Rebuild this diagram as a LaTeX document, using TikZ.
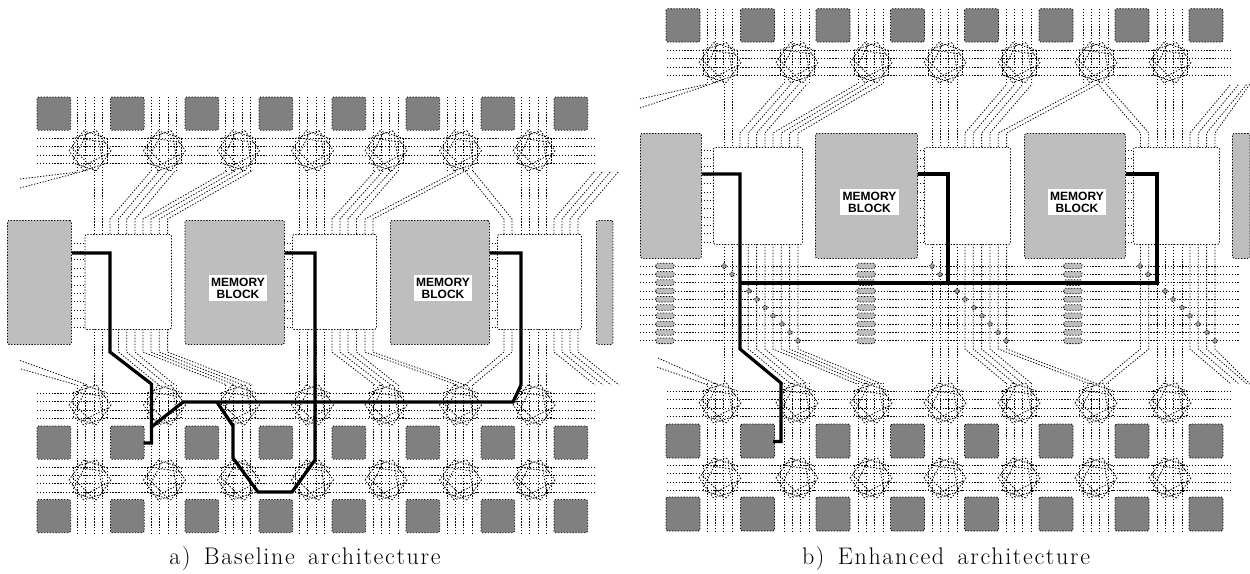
\documentclass[tikz,border=0pt]{standalone}
\usepackage{fontspec}
\newfontfamily\lblfont{Liberation Sans}
\newfontfamily\capfont{Latin Modern Roman}[LetterSpace=7,WordSpace=1.5]
\definecolor{gray50}{gray}{0.5}
\definecolor{gray60}{gray}{0.62}
\definecolor{gray75}{gray}{0.745}
\tikzset{
  dl/.style={line width=0.8pt,dash pattern=on 1.3pt off 1.6pt},
  fine/.style={line width=0.8pt,dash pattern=on 1.4pt off 1.6pt},
  darkpad/.style={draw,dl,fill=gray50,rounded corners=1.5pt},
  lightblk/.style={draw,dl,fill=gray75,rounded corners=1.5pt},
  whiteblk/.style={draw,dl,fill=white,rounded corners=1.5pt},
  route/.style={line width=3.2pt,line join=miter,black},
  memlabel/.style={fill=white,inner sep=0pt,align=center,font=\lblfont\bfseries\fontsize{12}{12}\selectfont,text width=#1,minimum height=26pt},
  caption/.style={font=\capfont\fontsize{24}{28}\selectfont,anchor=base,inner sep=0pt},
  bpad/.style={draw,dl,fill=gray75,rounded corners=1.5pt},
  viadot/.style={circle,draw,fine,fill=gray60,inner sep=0pt,minimum size=4.6pt}
}
\newcommand{\xbar}[2]{%
  \begin{scope}[shift={(#1,#2)}]
    \foreach \k in {0,...,9}{
      \draw[fine] ({36*\k}:21) -- ({36*\k+72}:21);
    }
    \foreach \k in {0,2,...,8}{
      \draw[fine] ({36*\k+9}:18) -- ({36*(\k+3)+9}:18);
    }
  \end{scope}}
\begin{document}
\begin{tikzpicture}[x=1pt,y=-1pt]
\path[use as bounding box] (0,0) rectangle (1250,573);

%%%%%%%%%%% PANEL A %%%%%%%%%%%
\foreach \y in {138,146.5,155,163.3,393,401.5,410,418,467,475,483.5,492}
  \draw[dl] (37,\y) -- (594,\y);
\foreach \c in {77.5,151.5,225.5,299.5,373,447,521.5}{
  \foreach \o in {0,8.3,16.6,25}{
    \draw[dl] (\c+\o,97) -- (\c+\o,172);
    \draw[dl] (\c+\o,385) -- (\c+\o,533);
  }}
\foreach \x in {94,102,299.5,307.8,316.1,324.5,521.5,529.8,538.1,546.5}{
  \draw[dl] (\x,172) -- (\x,234);
  \draw[dl] (\x,329) -- (\x,385);
}
\foreach \a/\b in {110/151,118.5/159,126.8/167,135/175,143/227,151/235,159.3/243,167.6/252,
                   332/375,340/383,348/391,356.5/398,365/457,373/465,504/465,512/473,
                   554/595,562/603,570/611,578/619}{
  \draw[dl] (\a,234) -- (\a,219) -- (\b,171);
  \draw[dl] (\a,329) -- (\a,352) -- (\b,385);
}
\draw[dl] (20,179) -- (78,172);
\draw[dl] (20,188) -- (88,170);
\draw[dl] (20,360.5) -- (88,385);
\draw[dl] (21,369) -- (77,385);
\foreach \y in {243,251.4,259.8,268.2,276.6,285,293.4,301.8,310.2,318.6,327}{
  \draw[dl] (71,\y) -- (85,\y);
  \draw[dl] (284,\y) -- (292,\y);
  \draw[dl] (489,\y) -- (497,\y);
}
\foreach \c in {90,164.5,238.5,312.5,386,460.5,534}{
  \xbar{\c}{150.7}\xbar{\c}{405}\xbar{\c}{480}
}
\foreach \x in {37,110.5,185,259,332,406,481,554}{
  \foreach \y in {97,426,499.5}
    \draw[darkpad] (\x,\y) rectangle (\x+33.7,\y+33.2);
}
\node[lightblk,anchor=north west,inner sep=0pt,minimum width=64pt,minimum height=124pt] (aio) at (7,220) {};
\node[whiteblk,anchor=north west,inner sep=0pt,minimum width=86.5pt,minimum height=95pt] (ac1) at (84.5,234) {};
\node[lightblk,anchor=north west,inner sep=0pt,minimum width=99.5pt,minimum height=124pt] (am1) at (184.5,220) {};
\node[whiteblk,anchor=north west,inner sep=0pt,minimum width=84pt,minimum height=95pt] (ac2) at (292,234) {};
\node[lightblk,anchor=north west,inner sep=0pt,minimum width=99pt,minimum height=124pt] (am2) at (390,220) {};
\node[whiteblk,anchor=north west,inner sep=0pt,minimum width=84pt,minimum height=95pt] (ac3) at (497,234) {};
\node[lightblk,anchor=north west,inner sep=0pt,minimum width=16.5pt,minimum height=124pt] (aio2) at (596,220) {};
\node[memlabel=58pt] (alab1) at (238,288) {MEMORY\\BLOCK};
\node[memlabel=58pt] (alab2) at (443,288) {MEMORY\\BLOCK};
\draw[route] (aio.east|-0,253) -- (110,253) -- (110,352) -- (151.5,384) -- (151.5,443) -- (143.5,443);
\draw[route] (151.5,427) -- (183,402) -- (513,402) -- (521,385) -- (521,253) -- (am2.east|-0,253);
\draw[route] (217,402) -- (233,426) -- (233,458) -- (258,492) -- (292,492) -- (315,460) -- (315,253) -- (am1.east|-0,253);
\node[caption] (capa) at (305,564) {a) Baseline architecture};

%%%%%%%%%%% PANEL B %%%%%%%%%%%
\foreach \y in {50,58.5,67,75,391,399.5,408,416,465,473.5,482,490}
  \draw[dl] (667,\y) -- (1230,\y);
\foreach \y in {266,274.3,282.6,291,299.2,307.5,315.8,324,332.4,340.8}
  \draw[dl] (640,\y) -- (1239,\y);
\foreach \c in {707,784,858,932,1006,1083,1157}{
  \foreach \o in {0,8.3,16.6,25}{
    \draw[dl] (\c+\o,9) -- (\c+\o,84);
    \draw[dl] (\c+\o,383) -- (\c+\o,531);
  }}
\foreach \x in {724,732,932,940.3,948.6,957,1157,1165.3,1173.6,1182}{
  \draw[dl] (\x,84) -- (\x,147);
  \draw[dl] (\x,244) -- (\x,383);
}
\foreach \a/\b in {740/783,748.3/791,756.6/799,765/807,773/857,781.3/865,789.6/873,798/882,
                   965/1007,973.3/1015,981.6/1023,990/1032,998.3/1090,1006.6/1098,1140.5/1098,1148.8/1106,
                   1190/1231,1198.3/1239,1206.6/1247,1214.9/1250}{
  \draw[dl] (\a,147) -- (\a,133) -- (\b,84);
  \draw[dl] (\a,244) -- (\a,349) -- (\b,384);
}
\draw[dl] (640,99) -- (708,84);
\draw[dl] (640,108) -- (720,81);
\draw[dl] (658,358) -- (716,384);
\draw[dl] (657,367) -- (708,385);
\foreach \y in {150,158.4,166.8,175.2,183.5,191.9,200.3,208.7,217,225.4,233.7,242}{
  \draw[dl] (701,\y) -- (713,\y);
  \draw[dl] (917,\y) -- (924,\y);
  \draw[dl] (1125,\y) -- (1133,\y);
}
\foreach \c in {720,797,871,945,1019,1096,1170}{
  \xbar{\c}{62.5}\xbar{\c}{403}\xbar{\c}{478}
}
\foreach \x in {656,857,1064}{
  \foreach \y in {266,274.3,282.6,291,299.2,307.5,315.8,324,332.4,340.8}
    \draw[bpad] (\x,\y-2.8) rectangle (\x+18,\y+2.8);
}
\foreach \x/\y in {724/266,732/274.3,749/291,757/299.2,765/307.5,773/315.8,782/324,790/332.4,798/340.8,
                   932/266,940/274.3,957/291,965/299.2,974/307.5,982/315.8,990/324,998/332.4,1006/340.8,
                   1140/266,1148/274.3,1165/291,1173/299.2,1182/307.5,1190/315.8,1198/324,1207/332.4,1215/340.8}
  \node[viadot] at (\x,\y) {};
\foreach \x in {666,740.5,816,890.5,964.5,1039,1115,1189}{
  \draw[darkpad] (\x,8.7) rectangle (\x+34,42);
  \draw[darkpad] (\x,424) rectangle (\x+34,458);
  \draw[darkpad] (\x,497) rectangle (\x+34,531);
}
\node[lightblk,anchor=north west,inner sep=0pt,minimum width=61pt,minimum height=125pt] (bio) at (640,133) {};
\node[whiteblk,anchor=north west,inner sep=0pt,minimum width=89pt,minimum height=97pt] (bc1) at (713,147) {};
\node[lightblk,anchor=north west,inner sep=0pt,minimum width=102pt,minimum height=125pt] (bm1) at (815,133) {};
\node[whiteblk,anchor=north west,inner sep=0pt,minimum width=86pt,minimum height=97pt] (bc2) at (924,147) {};
\node[lightblk,anchor=north west,inner sep=0pt,minimum width=101pt,minimum height=125pt] (bm2) at (1024,133) {};
\node[whiteblk,anchor=north west,inner sep=0pt,minimum width=86pt,minimum height=97pt] (bc3) at (1133,147) {};
\node[lightblk,anchor=north west,inner sep=0pt,minimum width=17.5pt,minimum height=125pt] (bio2) at (1232,133) {};
\node[memlabel=59pt] (blab1) at (869.5,202) {MEMORY\\BLOCK};
\node[memlabel=58pt] (blab2) at (1077,202) {MEMORY\\BLOCK};
\draw[route] (bio.east|-0,174) -- (740,174) -- (740,349) -- (781,383) -- (781,441.5) -- (773,441.5);
\draw[route] (740,283) -- (1157,283) -- (1157,174) -- (bm2.east|-0,174);
\draw[route] (bm1.east|-0,174) -- (948,174) -- (948,283);
\node[caption] (capb) at (946,564) {b) Enhanced architecture};
\end{tikzpicture}
\end{document}
